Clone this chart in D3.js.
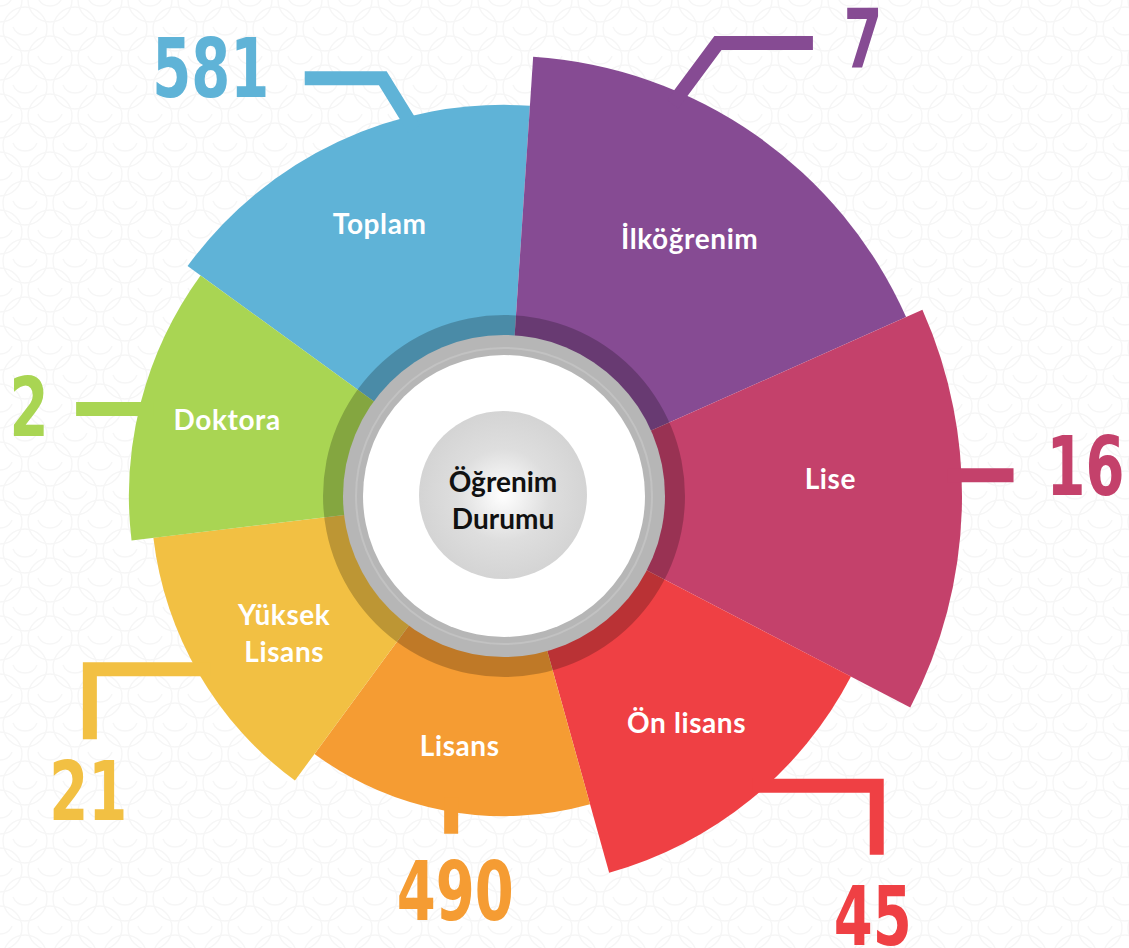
<!DOCTYPE html>
<meta charset="utf-8">
<head>
	<title>Öğrenim Durumu</title>
</head>

<style>

html, body {
	margin: 0;
	padding: 0;
	background: #fff;
}

svg {
	display: block;
}

.slice-label {
	font-family: Lato, "Open Sans", sans-serif;
	font-weight: 700;
	font-size: 28px;
	letter-spacing: 0.6px;
	fill: #fff;
	text-anchor: middle;
}

.value-label {
	font-family: "Liberation Sans Narrow", "DejaVu Sans Condensed", sans-serif;
	font-stretch: condensed;
	font-weight: 700;
	font-size: 82px;
	text-anchor: middle;
}

.center-label {
	font-family: Lato, "Open Sans", sans-serif;
	font-weight: 700;
	font-size: 28px;
	fill: #111;
	text-anchor: middle;
}

</style>

<body>

<svg id="chart" width="1129" height="948"></svg>

<script src="https://cdnjs.cloudflare.com/ajax/libs/d3/7.8.5/d3.min.js"></script>
<script>

// data
var categories = ["Toplam", "İlköğrenim", "Lise", "Ön lisans", "Lisans", "Yüksek Lisans", "Doktora"];
var values = [581, 7, 16, 45, 490, 21, 2];
var spans = [57.8, 62.2, 51.5, 46.9, 51.9, 46.9, 42.8];     // slice angle, degrees
var reach = [0.854, 0.961, 1, 0.854, 0.699, 0.771, 0.819]; // slice length, share of the longest
var colors = ["#5fb3d7", "#864b93", "#c4416b", "#ef4044", "#f59c33", "#f2c043", "#a9d553"];

// callout layout: anchor angle on the slice edge, elbow offsets, number offset
var callouts = [
	{ angle: 345.6, pts: [[-24, -39], [-102, -39]], label: [-196, -20] },
	{ angle: 23.7, pts: [[37, -50], [132, -50]], label: [182, -25] },
	{ angle: 87.4, pts: [[52, 0]], label: [124, 20] },
	{ angle: 137.8, pts: [[110, 0], [110, 69]], label: [106, 159] },
	{ angle: 189.5, pts: [[0, 22]], label: [4, 108] },
	{ angle: 240.6, pts: [[-106.5, 0], [-106.5, 70]], label: [-108, 151] },
	{ angle: 283.4, pts: [[-63, 0]], label: [-110, 27] }
];
// small nudges of the slice names off their centroid
var nudges = [[0, -6], [4, 4], [0, -27], [-2, 0], [2, -3], [17, 0], [-1, -4]];

var data = categories.map(function(c, i) {
	return { name: c, value: values[i], span: spans[i], reach: reach[i], color: colors[i], callout: callouts[i], nudge: nudges[i] };
});

var svg = d3.select('#chart');
var width = 1129, height = 948;
var cx = 504, cy = 496;
var rad = Math.PI / 180;

// faint background pattern
var defs = svg.append('defs');
var pat = defs.append('pattern')
	.attr('id', 'bg')
	.attr('width', 50)
	.attr('height', 58)
	.attr('patternUnits', 'userSpaceOnUse');
[[25, 29], [0, 0], [50, 0], [0, 58], [50, 58]].forEach(function(p) {
	pat.append('circle').attr('cx', p[0]).attr('cy', p[1]).attr('r', 22)
		.attr('fill', 'none').attr('stroke', '#f6f6f6').attr('stroke-width', 1.4);
	pat.append('path')
		.attr('d', 'M' + (p[0] - 12) + ',' + (p[1] - 2) + ' A13,13 0 0 0 ' + (p[0] + 12) + ',' + (p[1] - 2))
		.attr('fill', 'none').attr('stroke', '#f6f6f6').attr('stroke-width', 1.4);
});
svg.append('rect').attr('width', width).attr('height', height).attr('fill', 'url(#bg)');

var grad = defs.append('radialGradient').attr('id', 'ball').attr('cx', '50%').attr('cy', '50%').attr('r', '50%');
grad.append('stop').attr('offset', '0%').attr('stop-color', '#ffffff');
grad.append('stop').attr('offset', '55%').attr('stop-color', '#dedede');
grad.append('stop').attr('offset', '100%').attr('stop-color', '#d4d4d4');

var rScale = d3.scaleLinear().domain([0, 1]).range([0, 458]);

var pie = d3.pie()
	.sort(null)
	.value(function(d) { return d.span; })
	.startAngle(-54 * rad)
	.endAngle(306 * rad);

var arcs = pie(data);

var arc = d3.arc()
	.innerRadius(0)
	.outerRadius(function(d) { return rScale(d.data.reach); });

var g = svg.append('g').attr('transform', 'translate(' + cx + ',' + cy + ')');

g.selectAll('path.slice')
	.data(arcs)
	.enter().append('path')
	.attr('class', 'slice')
	.attr('d', arc)
	.attr('fill', function(d) { return d.data.color; });

// leader lines
function polar(a, r) {
	return [r * Math.sin(a * rad), -r * Math.cos(a * rad)];
}

var line = d3.line();

g.selectAll('path.leader')
	.data(arcs)
	.enter().append('path')
	.attr('class', 'leader')
	.attr('d', function(d) {
		var c = d.data.callout;
		var p0 = polar(c.angle, rScale(d.data.reach));
		var p1 = [p0[0] + c.pts[0][0], p0[1] + c.pts[0][1]];
		var len = Math.hypot(p1[0] - p0[0], p1[1] - p0[1]);
		var start = [p0[0] - 14 * (p1[0] - p0[0]) / len, p0[1] - 14 * (p1[1] - p0[1]) / len];
		var pts = [start, p0].concat(c.pts.map(function(o) { return [p0[0] + o[0], p0[1] + o[1]]; }));
		return line(pts);
	})
	.attr('fill', 'none')
	.attr('stroke', function(d) { return d.data.color; })
	.attr('stroke-width', 14)
	.attr('stroke-linejoin', 'miter')
	.attr('stroke-linecap', 'butt');

// condensed numbers: squeeze the available bold face horizontally
g.selectAll('text.value-label')
	.data(arcs)
	.enter().append('text')
	.attr('class', 'value-label')
	.attr('transform', function(d) {
		var c = d.data.callout;
		var p = polar(c.angle, rScale(d.data.reach));
		return 'translate(' + (p[0] + c.label[0]) + ',' + (p[1] + c.label[1]) + ') scale(0.76,1)';
	})
	.attr('fill', function(d) { return d.data.color; })
	.text(function(d) { return d.data.value; });

// dark ring over the slices, then the grey ring and the white disc
var ring = d3.arc().innerRadius(160).outerRadius(181).startAngle(0).endAngle(2 * Math.PI);
g.append('path').attr('d', ring).attr('fill', '#000').attr('fill-opacity', 0.22);
g.append('circle').attr('r', 161).attr('fill', '#b6b6b6');
g.append('circle').attr('r', 148).attr('fill', 'none').attr('stroke', '#c2c2c2').attr('stroke-width', 2);
g.append('circle').attr('r', 141).attr('fill', '#fff');
g.append('circle').attr('cx', -1).attr('cy', -1).attr('r', 84).attr('fill', 'url(#ball)');

// slice labels
g.selectAll('text.slice-label')
	.data(arcs)
	.enter().append('text')
	.attr('class', 'slice-label')
	.attr('transform', function(d) {
		var mid = (d.startAngle + d.endAngle) / 2;
		var r = (195 + rScale(d.data.reach)) / 2;
		return 'translate(' + (r * Math.sin(mid) + d.data.nudge[0]) + ',' + (-r * Math.cos(mid) + d.data.nudge[1]) + ')';
	})
	.each(function(d) {
		var words = d.data.name === 'Yüksek Lisans' ? ['Yüksek', 'Lisans'] : [d.data.name];
		var t = d3.select(this);
		words.forEach(function(w, i) {
			t.append('tspan')
				.attr('x', 0)
				.attr('y', (i - (words.length - 1) / 2) * 37)
				.attr('dy', '0.35em')
				.text(w);
		});
	});

var center = g.append('text').attr('class', 'center-label');
center.append('tspan').attr('x', -1).attr('y', -4).text('Öğrenim');
center.append('tspan').attr('x', -1).attr('y', 33).text('Durumu');

</script>

</body>
</html>
